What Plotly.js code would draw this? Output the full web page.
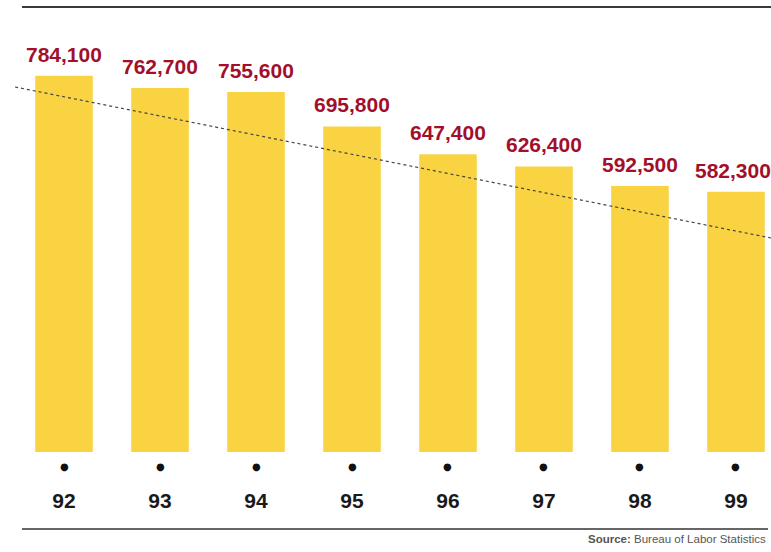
<!DOCTYPE html>
<html>
<head>
<meta charset="utf-8">
<script src="https://cdn.plot.ly/plotly-3.0.1.min.js"></script>
<style>html,body{margin:0;padding:0;background:#fff;}#chart{width:771px;height:552px;}</style>
</head>
<body>
<div id="chart"></div>
<script>
// Data
var years = ["92", "93", "94", "95", "96", "97", "98", "99"];
var values = [784100, 762700, 755600, 695800, 647400, 626400, 592500, 582300];
// Dotted trend line, end points (x in category index units)
var trendX = [-0.51, 7.365];
var trendY = [764400, 501900];
var sourceText = "<b>Source:</b> Bureau of Labor Statistics";

var idx = years.map(function (d, i) { return i; });
var labels = values.map(function (v) { return v.toLocaleString('en-US'); });

var FONT = '"Liberation Sans", Arial, sans-serif';
var RED = '#A30F2B';

var bars = {
  type: 'bar',
  x: idx,
  y: values,
  marker: { color: '#F9D342', line: { width: 0 } },
  hoverinfo: 'skip'
};

var trend = {
  type: 'scatter',
  mode: 'lines',
  x: trendX,
  y: trendY,
  line: { color: '#444', width: 1.2, dash: 'dot' },
  hoverinfo: 'skip'
};

var annotations = [];
idx.forEach(function (i) {
  annotations.push({
    x: i, y: values[i], xref: 'x', yref: 'y',
    text: labels[i], showarrow: false,
    xanchor: 'center', yanchor: 'bottom', yshift: 8,
    xshift: (i === idx.length - 1) ? -3 : 0,
    font: { family: FONT, size: 21, color: RED, weight: 'bold' }
  });
  annotations.push({
    x: i, y: -0.031, xref: 'x', yref: 'paper',
    text: '●', showarrow: false,
    xanchor: 'center', yanchor: 'middle',
    font: { family: 'DejaVu Sans, sans-serif', size: 10, color: '#111' }
  });
});
annotations.push({
  x: 768 / 771, y: -0.192, xref: 'paper', yref: 'paper',
  text: sourceText, showarrow: false,
  xanchor: 'right', yanchor: 'middle',
  font: { family: FONT, size: 11.5, color: '#555' }
});

var layout = {
  width: 771, height: 552,
  margin: { l: 0, r: 0, t: 0, b: 100 },
  paper_bgcolor: '#fff', plot_bgcolor: '#fff',
  showlegend: false,
  bargap: 0.4,
  xaxis: {
    range: [-0.667, 7.365],
    tickmode: 'array', tickvals: idx, ticktext: years,
    ticks: 'outside', ticklen: 30, tickcolor: 'rgba(0,0,0,0)',
    tickfont: { family: FONT, size: 21, color: '#1a1a1a', weight: 'bold' },
    showgrid: false, zeroline: false, showline: false, fixedrange: true
  },
  yaxis: {
    range: [130000, 915600],
    visible: false, showgrid: false, zeroline: false, fixedrange: true
  },
  shapes: [
    { type: 'line', xref: 'paper', yref: 'paper', x0: 22 / 771, x1: 1, y0: 0.9845, y1: 0.9845,
      line: { color: '#3a3a3a', width: 2 } },
    { type: 'line', xref: 'paper', yref: 'paper', x0: 22 / 771, x1: 768 / 771, y0: -0.1704, y1: -0.1704,
      line: { color: '#666', width: 2 } }
  ],
  annotations: annotations
};

Plotly.newPlot('chart', [bars, trend], layout, { displayModeBar: false, staticPlot: true });
</script>
</body>
</html>
